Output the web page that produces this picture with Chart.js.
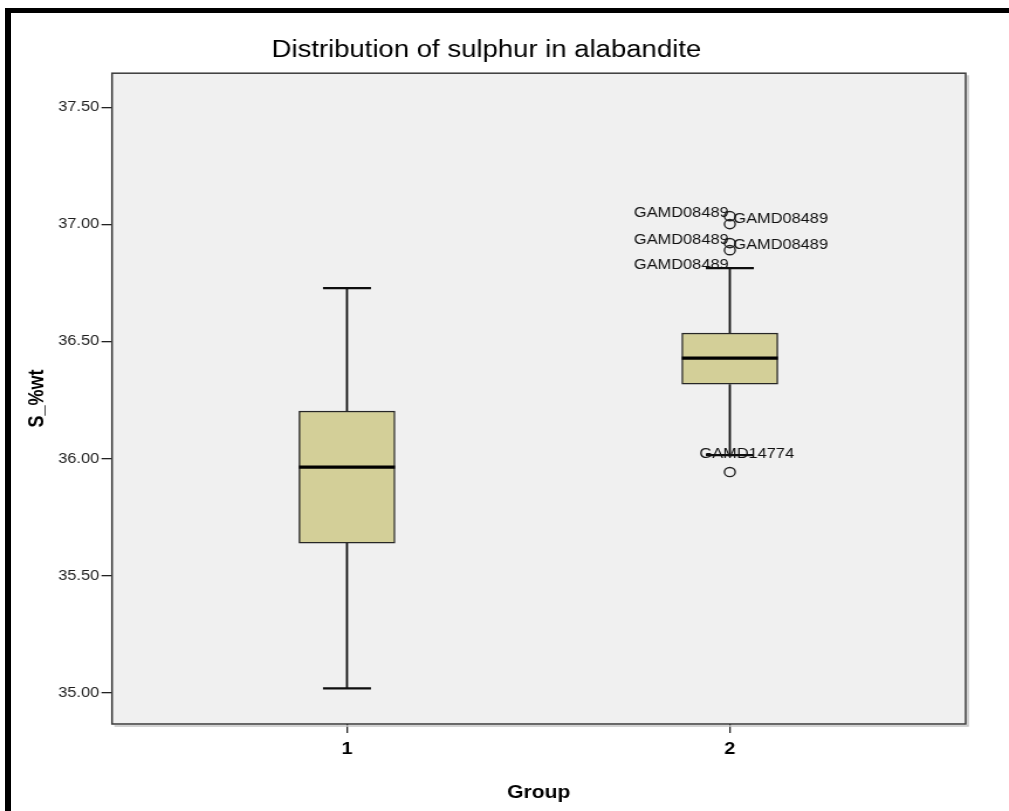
<!DOCTYPE html>
<html lang="en">
  <head>
    <meta charset="UTF-8" />
    <title>Distribution of sulphur in alabandite</title>
    <style>
      html, body { margin: 0; padding: 0; background: #fff; }
      body { width: 1009px; height: 811px; position: relative; overflow: hidden; }
      .frame-top { position: absolute; left: 5px; top: 8px; width: 1004px; height: 5px; background: #000; }
      .frame-left { position: absolute; left: 5px; top: 8px; width: 6px; height: 803px; background: #000; }
      /* the chart is drawn a bit narrow and widened, like the exported figure */
      .stretch { position: absolute; left: 0; top: 0; width: 862px; height: 811px; transform: scaleX(1.1705); transform-origin: 0 0; }
    </style>
  </head>
  <body>
    <div class="frame-top"></div>
    <div class="frame-left"></div>
    <div class="stretch">
      <canvas id="boxChart" width="862" height="811"></canvas>
    </div>

    <script src="https://cdn.jsdelivr.net/npm/chart.js"></script>
    <script>
      // group summary values (S_%wt)
      const groups = [1, 2];
      const whiskerLow = [35.02, 36.015];
      const q1 = [35.64, 36.318];
      const median = [35.964, 36.429];
      const q3 = [36.203, 36.536];
      const whiskerHigh = [36.728, 36.813];

      // outlying cases
      const outlierGroup = [2, 2, 2, 2, 2];
      const outlierValues = [37.035, 37.001, 36.92, 36.89, 35.943];

      // case labels next to the outliers
      const labelGroup = [2, 2, 2, 2, 2, 2];
      const labelValues = [37.035, 37.001, 36.92, 36.89, 36.813, 35.943];
      const labelCases = ["GAMD08489", "GAMD08489", "GAMD08489", "GAMD08489", "GAMD08489", "GAMD14774"];
      const labelSide = ["left", "right", "left", "right", "left", "below"];

      const yTicks = [35.0, 35.5, 36.0, 36.5, 37.0, 37.5];
      const xTicks = [1, 2];

      const boxWidth = 82;
      const capWidth = 41;
      const FONT = "'Liberation Sans', Arial, sans-serif";

      const boxPlot = {
        id: "boxPlot",
        beforeDraw(chart) {
          const { ctx, chartArea: a } = chart;
          ctx.save();
          ctx.fillStyle = "#f0f0f0";
          ctx.fillRect(a.left, a.top, a.right - a.left, a.bottom - a.top);
          ctx.restore();
        },
        beforeDatasetsDraw(chart) {
          const { ctx, chartArea: a, scales } = chart;
          const x = scales.x, y = scales.y;
          ctx.save();
          // frame with a soft shadow
          ctx.strokeStyle = "#c4c4c4";
          ctx.lineWidth = 1.5;
          ctx.beginPath();
          ctx.moveTo(a.right + 2, a.top + 2);
          ctx.lineTo(a.right + 2, a.bottom + 2);
          ctx.lineTo(a.left + 2, a.bottom + 2);
          ctx.stroke();
          ctx.strokeStyle = "#3a3a3a";
          ctx.lineWidth = 1.5;
          ctx.strokeRect(a.left, a.top, a.right - a.left, a.bottom - a.top);

          // whiskers and caps
          ctx.strokeStyle = "#0e0e0e";
          groups.forEach((g, i) => {
            const cx = x.getPixelForValue(g);
            ctx.lineWidth = 1.8;
            ctx.beginPath();
            ctx.moveTo(cx, y.getPixelForValue(whiskerLow[i]));
            ctx.lineTo(cx, y.getPixelForValue(q1[i]));
            ctx.moveTo(cx, y.getPixelForValue(q3[i]));
            ctx.lineTo(cx, y.getPixelForValue(whiskerHigh[i]));
            ctx.stroke();
            ctx.lineWidth = 2.2;
            ctx.beginPath();
            [whiskerLow[i], whiskerHigh[i]].forEach(v => {
              const py = y.getPixelForValue(v);
              ctx.moveTo(cx - capWidth / 2, py);
              ctx.lineTo(cx + capWidth / 2, py);
            });
            ctx.stroke();
          });
          ctx.restore();
        },
        afterDatasetsDraw(chart) {
          const { ctx, scales } = chart;
          const x = scales.x, y = scales.y;
          ctx.save();
          // medians
          ctx.strokeStyle = "#000";
          ctx.lineWidth = 3.2;
          groups.forEach((g, i) => {
            const cx = x.getPixelForValue(g);
            const py = y.getPixelForValue(median[i]);
            ctx.beginPath();
            ctx.moveTo(cx - boxWidth / 2, py);
            ctx.lineTo(cx + boxWidth / 2, py);
            ctx.stroke();
          });

          // case labels
          ctx.font = "14px " + FONT;
          ctx.fillStyle = "#111";
          ctx.textBaseline = "middle";
          labelCases.forEach((txt, i) => {
            const px = x.getPixelForValue(labelGroup[i]);
            const py = y.getPixelForValue(labelValues[i]);
            if (labelSide[i] === "left") {
              ctx.textAlign = "right";
              ctx.fillText(txt, px - 1, py - 3);
            } else if (labelSide[i] === "right") {
              ctx.textAlign = "left";
              ctx.fillText(txt, px + 3, py - 5);
            } else {
              ctx.textAlign = "left";
              ctx.fillText(txt, px - 26, py - 18);
            }
          });
          ctx.restore();
        }
      };

      new Chart(document.getElementById("boxChart"), {
        type: "bar",
        data: {
          datasets: [
            {
              label: "IQR",
              data: groups.map((g, i) => ({ x: g, y: [q1[i], q3[i]] })),
              backgroundColor: "#d3cf98",
              borderColor: "#262626",
              borderWidth: 1.4,
              borderSkipped: false,
              barThickness: boxWidth,
              grouped: false
            },
            {
              type: "line",
              label: "Outliers",
              data: outlierGroup.map((g, i) => ({ x: g, y: outlierValues[i] })),
              showLine: false,
              pointStyle: "circle",
              pointRadius: 4.6,
              pointBorderWidth: 1.4,
              pointBorderColor: "#222",
              pointBackgroundColor: "rgba(0,0,0,0)"
            }
          ]
        },
        options: {
          responsive: false,
          animation: false,
          events: [],
          layout: { padding: { left: 6, right: 37, top: 5, bottom: 5 } },
          plugins: {
            legend: { display: false },
            tooltip: { enabled: false },
            title: {
              display: true,
              text: "Distribution of sulphur in alabandite",
              color: "#000",
              font: { family: FONT, size: 23.5, weight: "normal" },
              padding: { top: 31, bottom: 9 }
            }
          },
          scales: {
            x: {
              type: "linear",
              offset: false,
              min: 0.3863,
              max: 2.616,
              afterBuildTicks: s => { s.ticks = xTicks.map(v => ({ value: v })); },
              afterFit: s => { s.height = 82; },
              grid: { offset: false, drawOnChartArea: false, tickLength: 9, color: "#222", lineWidth: 1.3 },
              border: { display: false },
              ticks: {
                padding: 6,
                color: "#000",
                font: { family: FONT, size: 17, weight: "bold" },
                callback: v => String(v)
              },
              title: {
                display: true,
                text: "Group",
                color: "#000",
                font: { family: FONT, size: 18, weight: "bold" },
                padding: { top: 4, bottom: 2 }
              }
            },
            y: {
              min: 34.868,
              max: 37.645,
              afterBuildTicks: s => { s.ticks = yTicks.map(v => ({ value: v })); },
              afterFit: s => { s.width = 89.7; },
              grid: { drawOnChartArea: false, tickLength: 9, color: "#222", lineWidth: 1.3 },
              border: { display: false },
              ticks: {
                padding: 2,
                color: "#1e1e1e",
                font: { family: FONT, size: 14 },
                callback: v => Number(v).toFixed(2)
              },
              title: {
                display: true,
                text: "S_%wt",
                color: "#000",
                font: { family: FONT, size: 18, weight: "bold" },
                padding: { top: 15, bottom: 4 }
              }
            }
          }
        },
        plugins: [boxPlot]
      });
    </script>
  </body>
</html>
